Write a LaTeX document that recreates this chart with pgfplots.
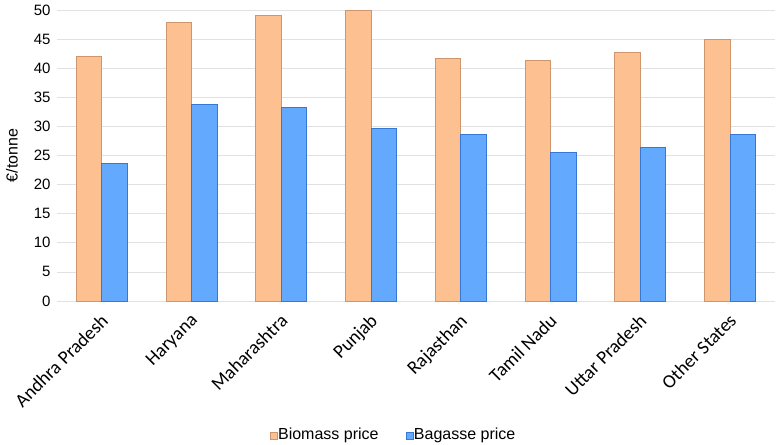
\documentclass[border=0pt]{standalone}
\usepackage{pgfplots}
\pgfplotsset{compat=1.18}
\usepackage{fontspec}
\setmainfont{Liberation Sans}
\newfontfamily\calfont{Carlito}
\definecolor{bio}{RGB}{253,193,145}
\definecolor{bioedge}{RGB}{205,150,110}
\definecolor{bag}{RGB}{99,169,253}
\definecolor{bagedge}{RGB}{55,120,215}
\definecolor{gridc}{RGB}{225,225,228}
\begin{document}
\begin{tikzpicture}
\begin{axis}[
  name=ax,
  at={(0,0)}, anchor=south west,
  scale only axis,
  width=718pt, height=291pt,
  ybar=0pt, bar width=25.6pt,
  xmin=-0.5, xmax=7.5,
  ymin=0, ymax=50,
  ytick={0,5,...,50},
  xtick={0,...,7},
  xticklabels={Andhra Pradesh,Haryana,Maharashtra,Punjab,Rajasthan,Tamil Nadu,Uttar Pradesh,Other States},
  x tick label style={font=\calfont\fontsize{19}{21}\selectfont, yshift=-10pt, xshift=-2pt, rotate=45, anchor=north east, inner sep=1pt},
  y tick label style={font=\fontsize{15}{17}\selectfont},
  /pgf/number format/assume math mode=true,
  major tick length=0pt,
  axis line style={draw=none},
  ymajorgrids, grid style={gridc, line width=0.8pt},
  ylabel={€/tonne},
  every axis y label/.style={at={(axis description cs:0,0.5)}, xshift=-45pt, rotate=90, anchor=center, font=\fontsize{16}{18}\selectfont},
  yticklabel style={xshift=-3pt},
  legend columns=2,
  legend style={at={(0.468,-0.46)}, anchor=center, draw=none, font=\fontsize{16}{18}\selectfont,
    nodes={inner sep=1pt},
    /tikz/every even column/.append style={column sep=26pt}},
  legend image code/.code={\draw[#1, line width=0.4pt] (0pt,-4pt) rectangle (7pt,3pt);},
  enlarge x limits=false,
]
\addplot[fill=bio, draw=bioedge, line width=1pt] coordinates {
(0,42.0) (1,47.8) (2,49.0) (3,50.0) (4,41.7) (5,41.3) (6,42.7) (7,45.0)};
\addplot[fill=bag, draw=bagedge, line width=1pt] coordinates {
(0,23.6) (1,33.8) (2,33.2) (3,29.7) (4,28.6) (5,25.5) (6,26.4) (7,28.6)};
\legend{Biomass price, Bagasse price}
\end{axis}
\path (-57pt,-143pt) rectangle (720pt,301pt);
\end{tikzpicture}
\end{document}
